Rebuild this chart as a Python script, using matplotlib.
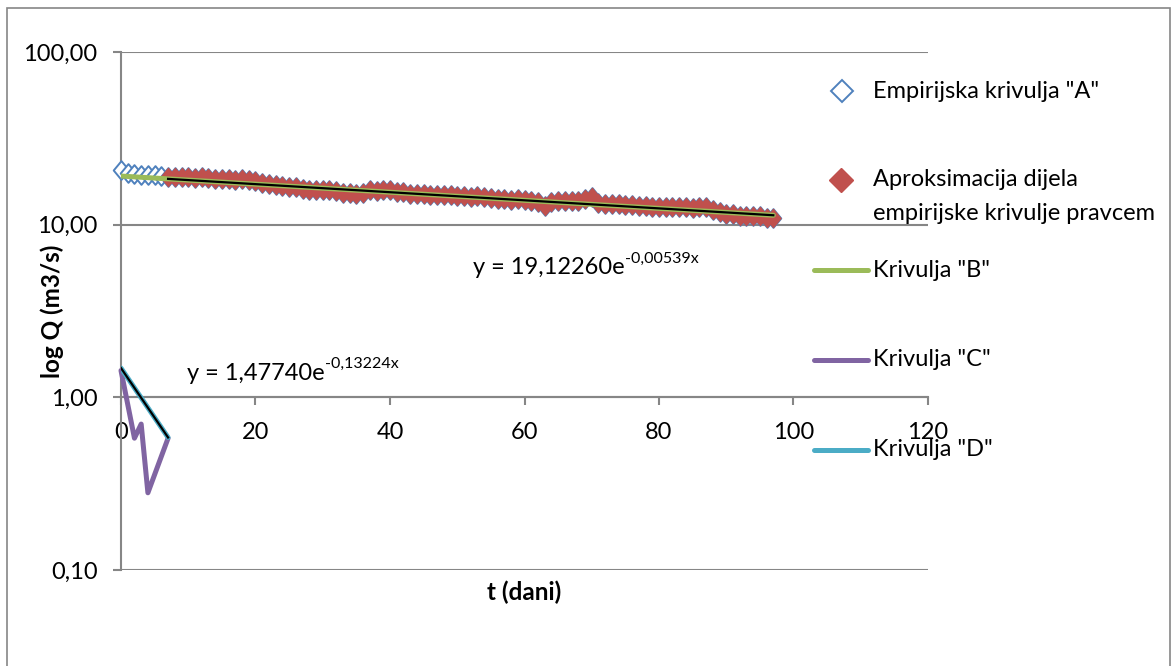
import numpy as np
import matplotlib.pyplot as plt
from matplotlib.lines import Line2D
from matplotlib.patches import Rectangle
from matplotlib.path import Path

plt.rcParams['font.family'] = ['Lato', 'DejaVu Sans']

# Daily discharge (m3/s), days 0..97
days = list(range(0, 98))
q_empirical = [
    20.8, 19.8, 19.6, 19.5, 19.4, 19.3, 19.2, 18.9, 18.9, 18.8,
    18.9, 18.7, 18.8, 18.6, 18.5, 18.3, 18.4, 18.2, 18.3, 18.1,
    17.8, 17.4, 17.2, 16.9, 16.7, 16.6, 16.5, 16.0, 15.8, 15.9,
    15.8, 15.9, 15.7, 15.3, 15.2, 15.1, 15.3, 15.8, 15.7, 15.9,
    15.8, 15.5, 15.4, 15.1, 15.0, 15.0, 14.9, 14.9, 14.8, 14.8,
    14.7, 14.6, 14.4, 14.6, 14.4, 14.2, 14.0, 14.0, 13.9, 14.0,
    13.9, 13.8, 13.6, 12.9, 13.6, 13.8, 13.7, 13.8, 13.7, 14.0,
    14.5, 13.4, 13.2, 13.2, 13.1, 13.0, 13.0, 12.9, 12.8, 12.7,
    12.7, 12.6, 12.7, 12.6, 12.6, 12.5, 12.6, 12.6, 12.2, 11.9,
    11.6, 11.5, 11.3, 11.2, 11.2, 11.3, 11.0, 10.9,
]
approx_start = 7  # first day of the part approximated by a straight line

# Curve "C" (remainder of the early recession)
days_c = [0, 2, 3, 4, 7]
q_c = [1.43, 0.58, 0.70, 0.28, 0.58]

# Exponential fits  Q = a * exp(b * t)
fit_b = (19.12260, -0.00539)
fit_d = (1.47740, -0.13224)
days_b = [0, 97]
days_d = [0, 7]

x_ticks = [0, 20, 40, 60, 80, 100, 120]
y_ticks = [0.1, 1, 10, 100]
y_tick_labels = ['0,10', '1,00', '10,00', '100,00']

blue = '#4F81BD'
red = '#C0504D'
green = '#9BBB59'
purple = '#8064A2'
cyan = '#4BACC6'
grid_grey = '#868686'

# Slightly tall diamond used for the data points
tall_diamond = Path([(0, 1), (0.83, 0), (0, -1), (-0.83, 0), (0, 1)],
                    closed=True)

W, H = 1171, 666
fig = plt.figure(figsize=(W / 100, H / 100), dpi=100)
ax = fig.add_axes([121 / W, 1 - 570 / H, (928 - 121) / W, (570 - 52) / H])

ax.set_yscale('log')
ax.set_xlim(0, 120)
ax.set_ylim(0.1, 100)


def fx(px):
    return px / W


def fy(py):
    return 1 - py / H


def expfit(params, t0, t1, n=200):
    a, b = params
    t = np.linspace(t0, t1, n)
    return t, a * np.exp(b * t)


# Empirical curve A (open diamonds)
ax.plot(days, q_empirical, linestyle='none', marker=tall_diamond,
        markersize=13.5, markerfacecolor='white', markeredgecolor=blue,
        markeredgewidth=1.4, zorder=3, clip_on=False)
# Section approximated by the line (filled diamonds)
ax.plot(days[approx_start:], q_empirical[approx_start:], linestyle='none',
        marker=tall_diamond, markersize=13.5, markerfacecolor=red,
        markeredgecolor=red, markeredgewidth=0.6, zorder=4, clip_on=False)

# Curve B
tb, qb = expfit(fit_b, days_b[0], days_b[1])
ax.plot(tb, qb, color=green, linewidth=3.6, solid_capstyle='round', zorder=5)

# Curve C
ax.plot(days_c, q_c, color=purple, linewidth=3.6, solid_capstyle='round',
        solid_joinstyle='round', zorder=5, clip_on=False)

# Curve D
td, qd = expfit(fit_d, days_d[0], days_d[1])
ax.plot(td, qd, color=cyan, linewidth=3.6, solid_capstyle='round', zorder=6)

# Trendlines
tt, qt = expfit(fit_b, days[approx_start], days[-1])
ax.plot(tt, qt, color='black', linewidth=1.6, zorder=7)
ax.plot(td, qd, color='black', linewidth=1.6, zorder=7)

# Equations
eq_size = 17
sup_size = 11.5
t1 = fig.text(fx(473), fy(268), 'y = 19,12260e', fontsize=eq_size,
              va='center', ha='left')
ax.annotate('-0,00539x', xy=(1.0, 0.6), xycoords=t1, fontsize=sup_size,
            va='bottom', ha='left')
t2 = fig.text(fx(187), fy(373), 'y = 1,47740e', fontsize=eq_size,
              va='center', ha='left')
ax.annotate('-0,13224x', xy=(1.0, 0.6), xycoords=t2, fontsize=sup_size,
            va='bottom', ha='left')

# Axes styling
for side in ('top', 'right'):
    ax.spines[side].set_visible(False)
ax.spines['left'].set_color(grid_grey)
ax.spines['left'].set_linewidth(1.5)
ax.spines['bottom'].set_position(('data', 1))
ax.spines['bottom'].set_color(grid_grey)
ax.spines['bottom'].set_linewidth(1.5)

ax.set_xticks(x_ticks)
ax.set_xticklabels([str(v) for v in x_ticks])
ax.set_yticks(y_ticks)
ax.set_yticklabels(y_tick_labels)
ax.yaxis.set_minor_locator(plt.NullLocator())
ax.tick_params(axis='both', which='major', labelsize=17, color=grid_grey,
               width=1.5, length=6, direction='out')
ax.tick_params(axis='x', pad=12)
ax.tick_params(axis='y', pad=11)
ax.yaxis.grid(True, color=grid_grey, linewidth=1.5)
ax.set_axisbelow(True)

fig.text(fx(52), fy(311), 'log Q (m3/s)', rotation=90, fontsize=17.5,
         fontweight='bold', ha='center', va='center')
fig.text(fx(524), fy(592), 't (dani)', fontsize=17.5,
         fontweight='bold', ha='center', va='center')

# Legend drawn on the figure
leg_size = 17
tx = fx(873)

fig.add_artist(Line2D([fx(842)], [fy(91)], marker='D', markersize=11,
                      markerfacecolor='white', markeredgecolor=blue,
                      markeredgewidth=1.4, linestyle='none'))
fig.text(tx, fy(91), 'Empirijska krivulja "A"', fontsize=leg_size, va='center')

fig.add_artist(Line2D([fx(841)], [fy(180)], marker='D', markersize=12.5,
                      markerfacecolor=red, markeredgecolor=red,
                      linestyle='none'))
fig.text(tx, fy(180), 'Aproksimacija dijela', fontsize=leg_size, va='center')
fig.text(tx, fy(214), 'empirijske krivulje pravcem', fontsize=leg_size,
         va='center')

for py, col, lab in ((270, green, 'Krivulja "B"'),
                     (360, purple, 'Krivulja "C"'),
                     (450, cyan, 'Krivulja "D"')):
    fig.add_artist(Line2D([fx(814), fx(868)], [fy(py), fy(py)], color=col,
                          linewidth=3.6, solid_capstyle='round'))
    fig.text(tx, fy(py), lab, fontsize=leg_size, va='center')

# Chart border
fig.add_artist(Rectangle((fx(7), -0.01), (1170 - 7) / W, fy(8) + 0.01,
                         transform=fig.transFigure, fill=False,
                         edgecolor=grid_grey, linewidth=1.2))

fig.savefig('out.png', dpi=100)
